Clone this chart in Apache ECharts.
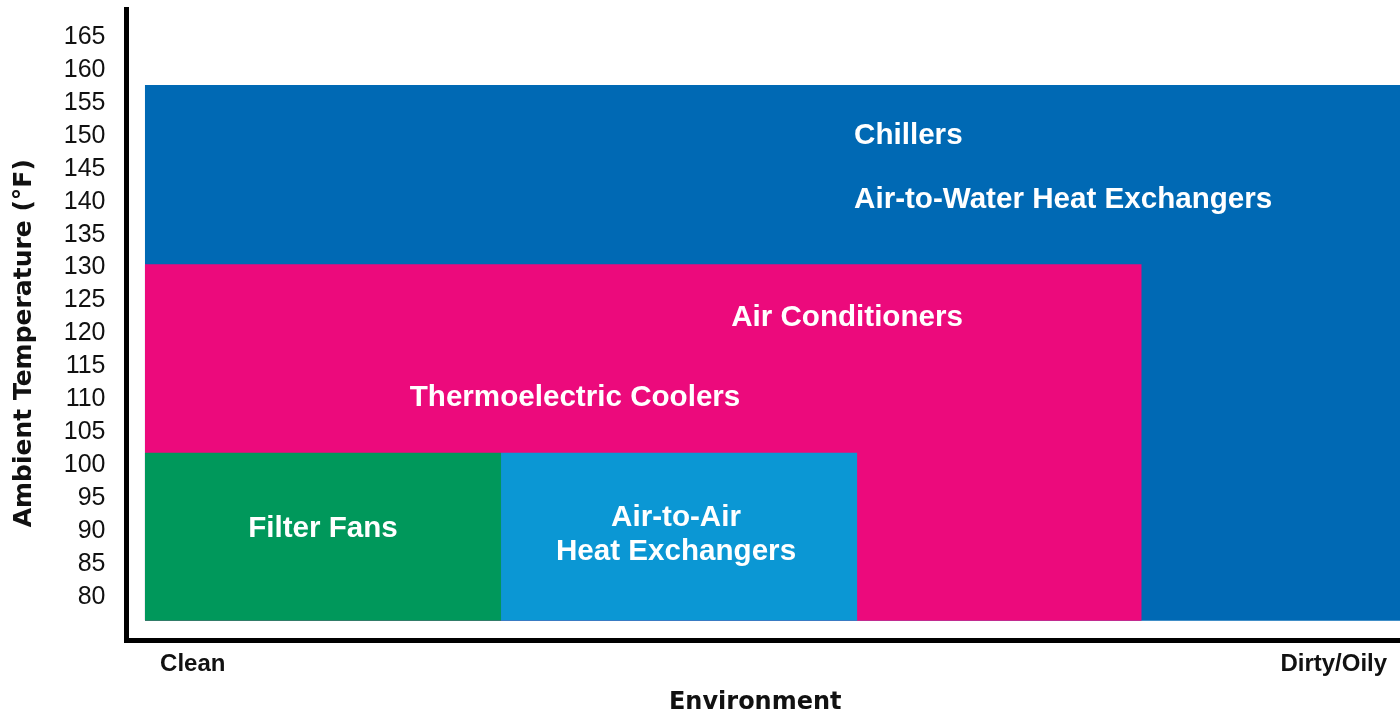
<!DOCTYPE html>
<html><head><meta charset="utf-8">
<script src="https://cdn.jsdelivr.net/npm/echarts@6/dist/echarts.min.js"></script>
<style>html,body{margin:0;padding:0;background:#fff}#c{width:1400px;height:716px}</style>
</head><body><div id="c"></div>
<script>
// ---- data ----
var yTicks = [80, 85, 90, 95, 100, 105, 110, 115, 120, 125, 130, 135, 140, 145, 150, 155, 160, 165];
var xTickLabels = ['Clean', 'Dirty/Oily'];
var xTickValues = [5.2, 94.8];
var zones = ['Chillers / Air-to-Water', 'Air Conditioners / Thermoelectric', 'Filter Fans', 'Air-to-Air'];
var envStart = [1.45, 1.45, 1.45, 29.41];
var envEnd = [100, 79.7, 29.41, 57.37];
var tempLow = [76.4, 76.4, 76.4, 76.4];
var tempHigh = [157.7, 130.5, 101.9, 101.9];
var labelTexts = ['Chillers', 'Air-to-Water Heat Exchangers', 'Air Conditioners', 'Thermoelectric Coolers', 'Filter Fans', 'Air-to-Air\nHeat Exchangers'];
var labelEnv = [57.13, 57.13, 56.58, 35.22, 15.43, 43.15];
var labelTemp = [150.0, 140.3, 122.3, 110.2, 90.3, 89.5];

// ---- styles ----
var zoneColors = ['#0069B4', '#EC0A7C', '#00985B', '#0B97D4'];
var leftAligned = {0: true, 1: true};

var rectData = zones.map(function (n, i) { return { name: n, value: [envStart[i], envEnd[i], tempLow[i], tempHigh[i]] }; });
var textData = labelTexts.map(function (t, i) { return { name: t, value: [labelEnv[i], labelTemp[i]] }; });

var chart = echarts.init(document.getElementById('c'), null, { renderer: 'canvas' });
chart.setOption({
  animation: false,
  backgroundColor: '#ffffff',
  grid: { left: 126.5, right: 0, top: 9.5, bottom: 76, containLabel: false, outerBoundsMode: 'none' },
  xAxis: {
    type: 'value', min: 0, max: 100,
    name: 'Environment', nameLocation: 'middle', nameGap: 51,
    nameTextStyle: { fontFamily: 'DejaVu Sans', fontWeight: 'bold', fontSize: 24, color: '#111', padding: [0, 16, 0, 0] },
    axisLine: { show: true, onZero: false, lineStyle: { color: '#000', width: 5, cap: 'square' } },
    axisTick: { show: false },
    splitLine: { show: false },
    axisLabel: {
      customValues: xTickValues, margin: 12,
      fontFamily: 'Liberation Sans', fontWeight: 'bold', fontSize: 24, color: '#111',
      formatter: function (v) { var i = xTickValues.indexOf(v); return i >= 0 ? xTickLabels[i] : ''; }
    }
  },
  yAxis: {
    type: 'value', min: 73.47, max: 169.17,
    name: 'Ambient Temperature (°F)', nameLocation: 'middle', nameGap: 90, nameRotate: 90,
    nameTextStyle: { fontFamily: 'DejaVu Sans', fontWeight: 'bold', fontSize: 25, color: '#111', padding: [0, 37, 0, 0] },
    axisLine: { show: true, onZero: false, lineStyle: { color: '#000', width: 5, cap: 'square' } },
    axisTick: { show: false },
    splitLine: { show: false },
    axisLabel: { customValues: yTicks, margin: 21, fontFamily: 'Liberation Sans', fontSize: 25, color: '#111' }
  },
  series: [
    {
      type: 'custom', silent: true, data: rectData,
      renderItem: function (params, api) {
        var p0 = api.coord([api.value(0), api.value(3)]);
        var p1 = api.coord([api.value(1), api.value(2)]);
        return { type: 'rect', shape: { x: p0[0], y: p0[1], width: p1[0] - p0[0], height: p1[1] - p0[1] }, style: { fill: zoneColors[params.dataIndex] } };
      }
    },
    {
      type: 'custom', silent: true, data: textData, z: 5,
      renderItem: function (params, api) {
        var p = api.coord([api.value(0), api.value(1)]);
        var i = params.dataIndex;
        return {
          type: 'text', x: p[0], y: p[1],
          style: {
            text: labelTexts[i], fill: '#ffffff',
            font: 'bold 29.6px "Liberation Sans", Arial, sans-serif',
            align: leftAligned[i] ? 'left' : 'center', verticalAlign: 'middle', lineHeight: 34
          }
        };
      }
    }
  ]
});
</script></body></html>
